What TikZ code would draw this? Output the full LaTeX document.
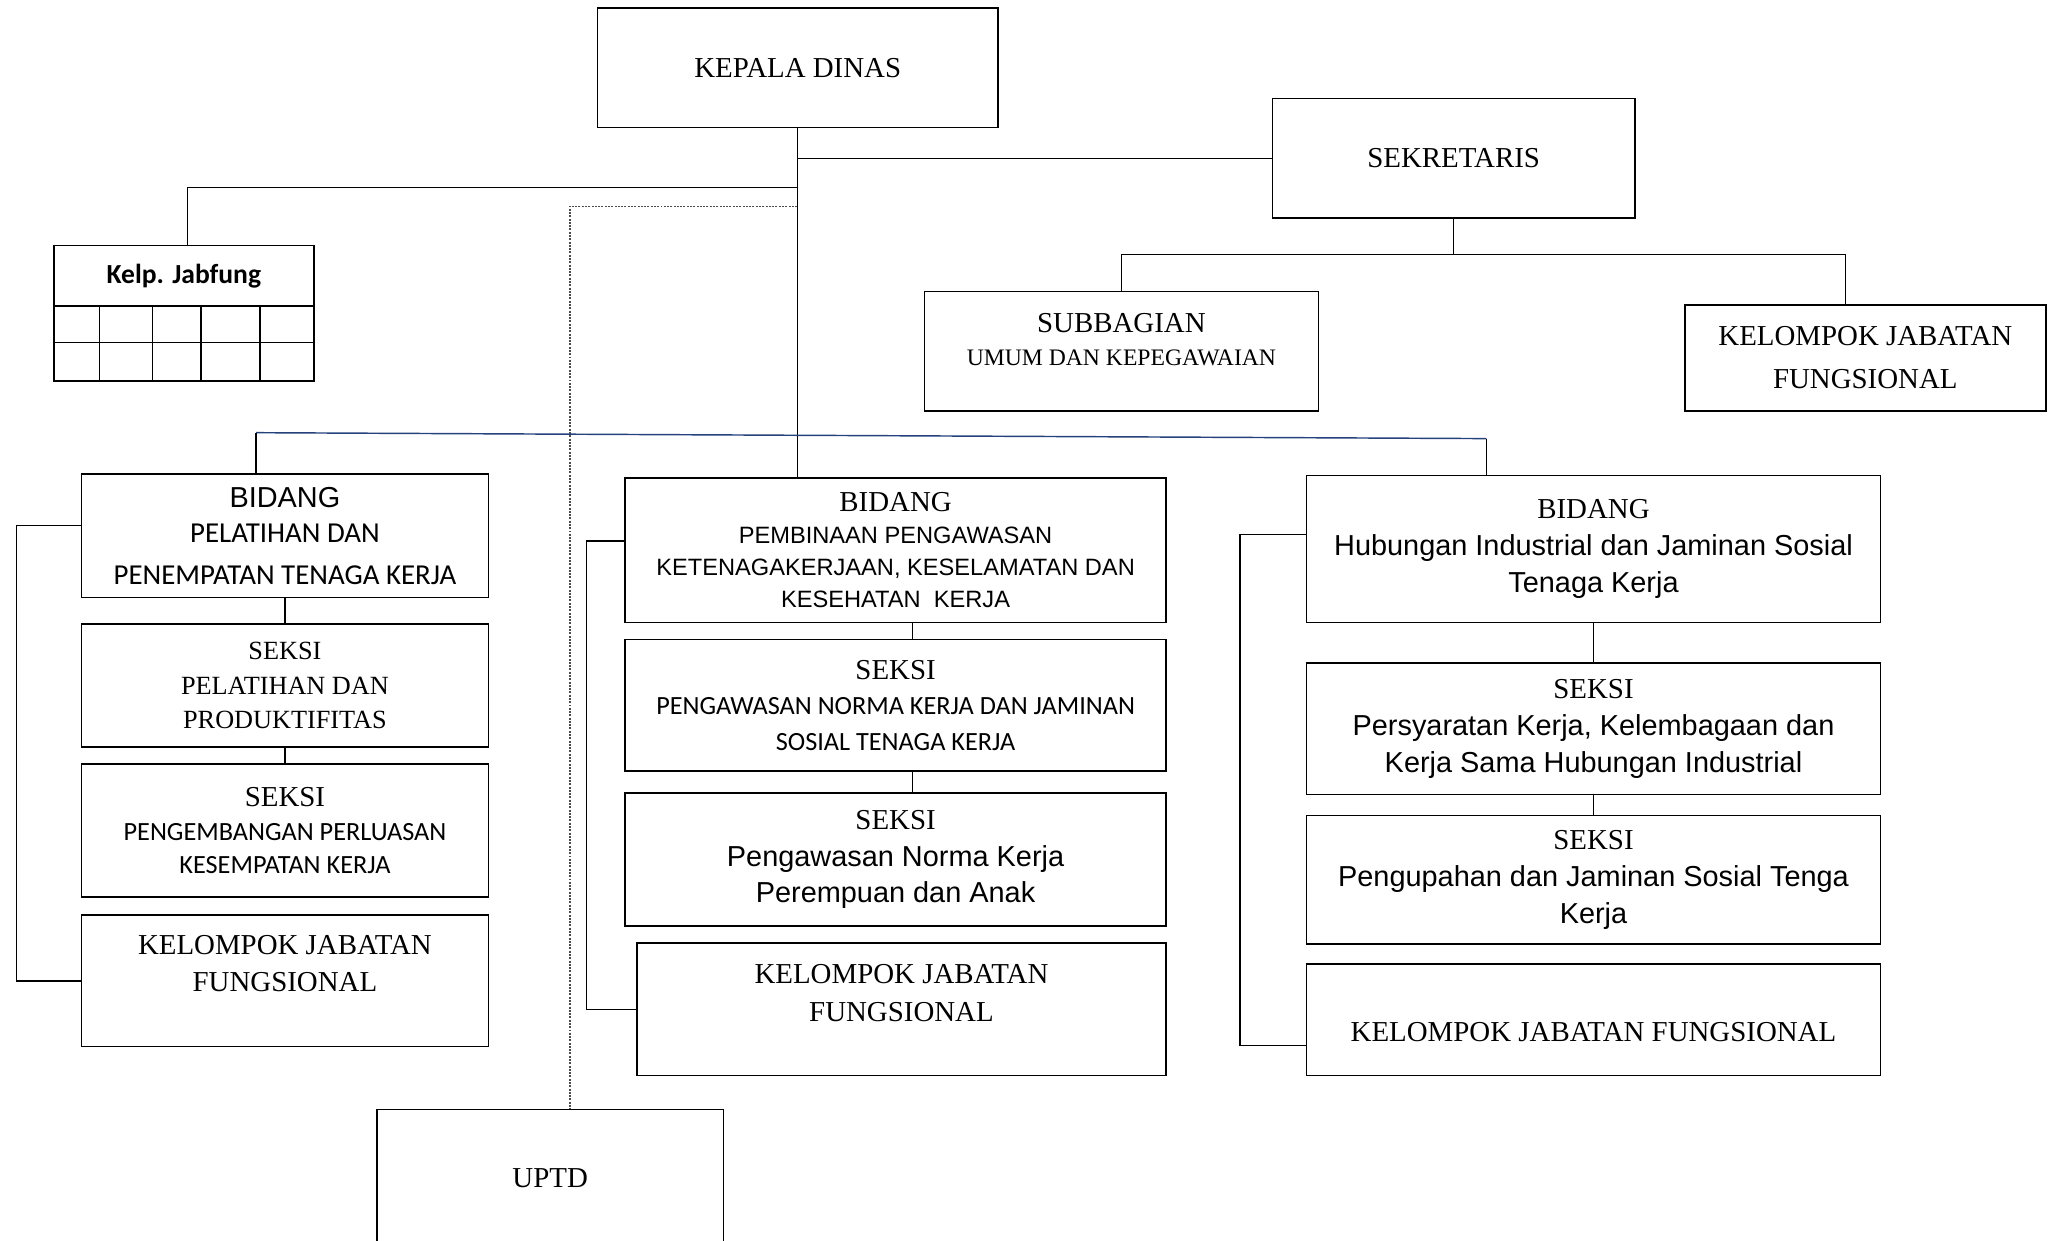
\documentclass[tikz,border=0pt]{standalone}
\usepackage{fontspec}
\setmainfont{Liberation Serif}
\newfontfamily\arialfont{Liberation Sans}
\newfontfamily\calfont{Carlito}
\newcommand{\fsz}[2]{\fontsize{#1}{#2}\selectfont}
\usepackage{tikz}
\usetikzlibrary{positioning}
\definecolor{busblue}{RGB}{38,66,125}

\begin{document}
\begin{tikzpicture}[x=1pt,y=-1pt,
    unit/.style={draw, line width=1.3pt, inner sep=0pt, align=center, font=\fsz{22}{28}},
    link/.style={line width=0.9pt},
    buslink/.style={line width=1.1pt, draw=busblue},
    dotlink/.style={line width=0.9pt, draw=black!70, dash pattern=on 1.5pt off 1pt}]
\useasboundingbox (0,0) rectangle (1568,945);

\node[unit, minimum width=305pt, minimum height=91pt] (kadis) at (607.5,51.5) {KEPALA DINAS};
\node[unit, minimum width=276pt, minimum height=91pt] (sekre) at (1107,120.5) {SEKRETARIS};
\node[unit, minimum width=300pt, minimum height=91pt,
      label={[align=center, font=\fsz{22}{25}, yshift=9pt]center:{SUBBAGIAN\\{\fsz{18}{25}UMUM DAN KEPEGAWAIAN}}}] (subbag) at (854,267.5) {};
\node[unit, minimum width=275pt, minimum height=81pt, font=\fsz{22}{33}] (kjfS) at (1420.5,272.5) {KELOMPOK JABATAN\\FUNGSIONAL};

\node[unit, minimum width=198pt, minimum height=103pt,
      label={[font=\calfont\bfseries\fsz{21}{21}, yshift=28.5pt]center:Kelp. Jabfung}] (jabfung) at (140,238.5) {};
\draw[link] (41,233) -- (239,233);
\draw[link] (41,261) -- (239,261);
\foreach \x in {76,116,153,198}
    \draw[link] (\x,233) -- (\x,290);

\node[unit, minimum width=310pt, minimum height=94pt, font=\calfont\fsz{22}{27}] (bidA) at (217,408)
    {{\arialfont BIDANG}\\PELATIHAN DAN\\[5pt]PENEMPATAN TENAGA KERJA};
\node[unit, minimum width=310pt, minimum height=94pt, font=\fsz{20}{26}, below=18.7pt of bidA] (sekA1)
    {SEKSI\\PELATIHAN DAN\\PRODUKTIFITAS};
\node[unit, minimum width=310pt, minimum height=101pt, font=\calfont\fsz{20}{25.5}, below=11.7pt of sekA1] (sekA2)
    {{\rmfamily\fsz{22}{25.5}SEKSI}\\PENGEMBANGAN PERLUASAN\\KESEMPATAN KERJA};
\node[unit, minimum width=310pt, minimum height=100pt, below=12.7pt of sekA2,
      label={[align=center, font=\fsz{22}{28}, yshift=13pt]center:{KELOMPOK JABATAN\\FUNGSIONAL}}] (kjfA) {};

\node[unit, minimum width=412pt, minimum height=110pt, font=\arialfont\fsz{18}{24.5}] (bidB) at (682,419)
    {{\rmfamily\fsz{22}{24.5}BIDANG}\\PEMBINAAN PENGAWASAN\\KETENAGAKERJAAN, KESELAMATAN DAN\\KESEHATAN\ \ KERJA};
\node[unit, minimum width=412pt, minimum height=100pt, font=\calfont\fsz{20}{27}, below=11.7pt of bidB] (sekB1)
    {{\rmfamily\fsz{22}{27}SEKSI}\\PENGAWASAN NORMA KERJA DAN JAMINAN\\SOSIAL TENAGA KERJA};
\node[unit, minimum width=412pt, minimum height=101pt, font=\arialfont\fsz{22}{28}, below=15.7pt of sekB1] (sekB2)
    {{\rmfamily SEKSI}\\Pengawasan Norma Kerja\\Perempuan dan Anak};
\node[unit, minimum width=403pt, minimum height=101pt, below=11.7pt of sekB2.south east, anchor=north east,
      label={[align=center, font=\fsz{22}{29}, yshift=12pt]center:{KELOMPOK JABATAN\\FUNGSIONAL}}] (kjfB) {};

\node[unit, minimum width=437pt, minimum height=112pt, font=\arialfont\fsz{22}{28}] (bidC) at (1213.5,418)
    {{\rmfamily BIDANG}\\Hubungan Industrial dan Jaminan Sosial\\Tenaga Kerja};
\node[unit, minimum width=437pt, minimum height=100pt, font=\arialfont\fsz{22}{28}, below=29.7pt of bidC] (sekC1)
    {{\rmfamily SEKSI}\\Persyaratan Kerja, Kelembagaan dan\\Kerja Sama Hubungan Industrial};
\node[unit, minimum width=437pt, minimum height=98pt, font=\arialfont\fsz{22}{28}, below=14.7pt of sekC1] (sekC2)
    {{\rmfamily SEKSI}\\Pengupahan dan Jaminan Sosial Tenga\\Kerja};
\node[unit, minimum width=437pt, minimum height=85pt, below=13.7pt of sekC2,
      label={[font=\fsz{22}{28}, yshift=-9.5pt]center:KELOMPOK JABATAN FUNGSIONAL}] (kjfC) {};

\node[unit, minimum width=264pt, minimum height=130pt,
      label={[font=\fsz{22}{28}, yshift=13pt]center:UPTD}] (uptd) at (419,910) {};

\coordinate (jfTap) at (607,143);
\coordinate (uptdTap) at (607,157);
\coordinate (sekBus) at (1104,194);
\coordinate (busL) at (195,329.5);
\coordinate (busR) at (1132,334);

\draw[link] (kadis.south) -- (kadis.south |- bidB.north);
\draw[link] (kadis.south |- sekre.west) -- (sekre.west);
\draw[link] (jfTap) -| ([xshift=3pt]jabfung.north);
\draw[dotlink] (uptdTap) -| ([xshift=15pt]uptd.north);
\draw[link] (sekre.south) -- (sekre.south |- sekBus);
\draw[link] (subbag.north) |- (sekBus) -| ([xshift=-15pt]kjfS.north);
\draw[buslink] (busL) -- (busR);
\draw[link] (busL) -- (busL |- bidA.north);
\draw[link] (busR) -- (busR |- bidC.north);

\draw[link] (bidA.south) -- (sekA1.north);
\draw[link] (sekA1.south) -- (sekA2.north);
\draw[link] ([xshift=13pt]bidB.south) -- ([xshift=13pt]sekB1.north);
\draw[link] ([xshift=13pt]sekB1.south) -- ([xshift=13pt]sekB2.north);
\draw[link] (bidC.south) -- (sekC1.north);
\draw[link] (sekC1.south) -- (sekC2.north);

\draw[link] ([yshift=8pt]bidA.west) -- ++(-49,0) |- (kjfA.west);
\draw[link] ([yshift=7pt]bidB.west) -- ++(-29,0) |- (kjfB.west);
\draw[link] ([yshift=11pt]bidC.west) -- ++(-50,0) |- ([yshift=-19.5pt]kjfC.west);
\end{tikzpicture}
\end{document}
